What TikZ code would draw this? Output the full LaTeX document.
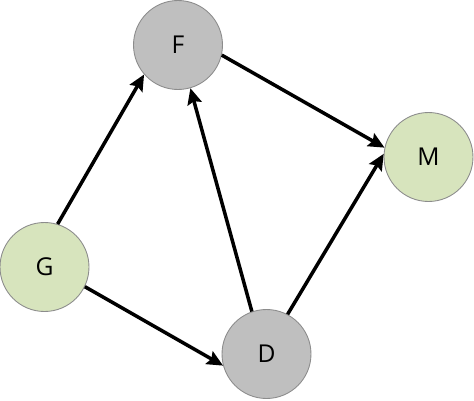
\documentclass[tikz,border=0pt]{standalone}
\usepackage{fontspec}
\setmainfont{Open Sans}
\usepackage{xcolor}
\usepackage{tikz}
\definecolor{nodegray}{RGB}{191, 191, 191}
\definecolor{nodegreen}{RGB}{215, 228, 189}
\definecolor{rimgray}{RGB}{140, 140, 140}
\usetikzlibrary{arrows.meta,positioning}

\begin{document}
\begin{tikzpicture}[
    x=0.02cm, y=0.02cm,
    vertex/.style={
        circle,
        draw=rimgray,
        line width=0.5pt,
        minimum size=1.78cm,
        inner sep=0pt,
        font=\fontsize{14}{16}\selectfont
    },
    arrow/.style={-{Stealth[length=3.2mm,width=2.9mm,inset=0.5mm]},line width=2pt,black}
]
    \useasboundingbox (0,0) rectangle (474,400);
    % Vertices
    \node[vertex, fill=nodegray] (f) at (178,355) {F};
    \node[vertex, fill=nodegreen] (m) at (428.5,243) {M};
    \node[vertex, fill=nodegreen] (g) at (44.5,133) {G};
    \node[vertex, fill=nodegray] (d) at (266.5,46) {D};
    % Arrows
    \draw[arrow] (g.73) -- (f.221);
    \draw[arrow] (f.347) -- (m.168);
    \draw[arrow] (d.109) -- (f.286);
    \draw[arrow] (d.62) -- (m.176);
    \draw[arrow] (g.334) -- (d.195);
\end{tikzpicture}
\end{document}
